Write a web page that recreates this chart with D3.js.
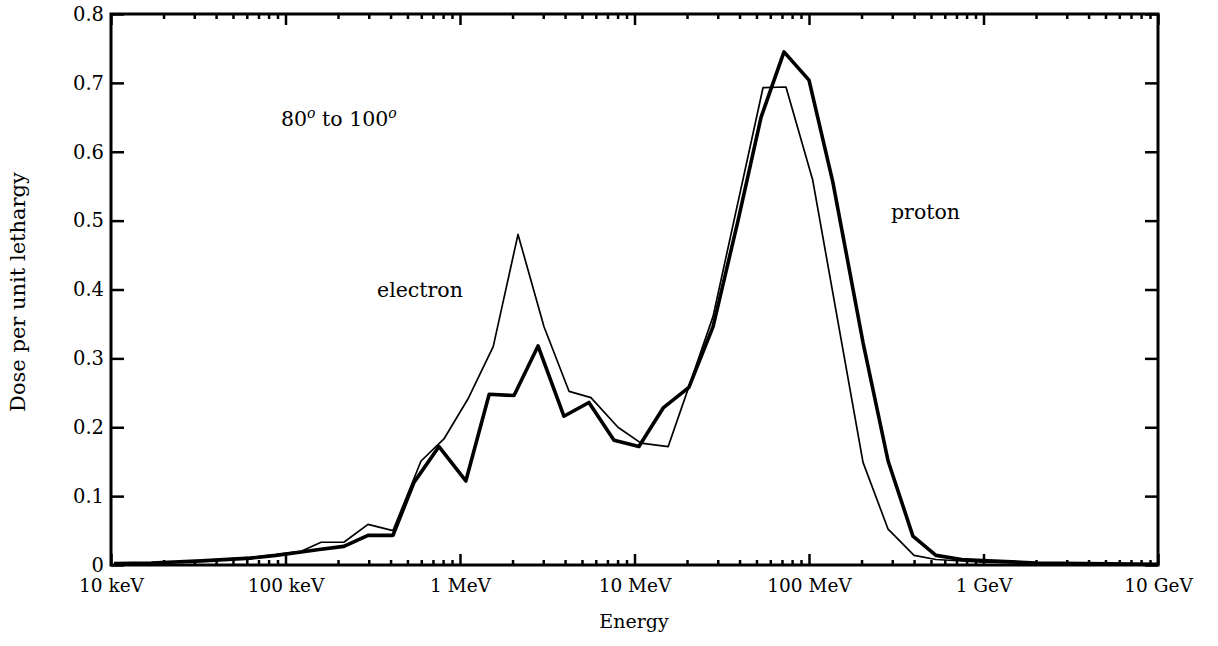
<!DOCTYPE html>
<html>
<head>
<meta charset="utf-8">
<script src="https://cdn.jsdelivr.net/npm/d3@7"></script>
<style>
  body { margin: 0; background: #fff; }
  svg { display: block; }
  text { font-family: "DejaVu Serif", serif; fill: #000; }
</style>
</head>
<body>
<svg id="chart"></svg>
<script>
// energies in MeV, dose per unit lethargy
const thickEnergy = [0.0104, 0.017, 0.033, 0.063, 0.088, 0.123, 0.16, 0.216, 0.297, 0.413,
  0.545, 0.758, 1.08, 1.47, 2.04, 2.8, 3.94, 5.48, 7.63, 10.6,
  14.6, 20.5, 28.2, 39.2, 53.1, 71.9, 100, 137, 204, 284,
  394, 534, 750, 1060, 2000, 10000];
const thickDose = [0.002, 0.003, 0.006, 0.010, 0.014, 0.019, 0.023, 0.027, 0.043, 0.043,
  0.120, 0.172, 0.122, 0.248, 0.246, 0.318, 0.216, 0.236, 0.181, 0.172,
  0.228, 0.258, 0.346, 0.500, 0.650, 0.745, 0.704, 0.556, 0.323, 0.151,
  0.042, 0.014, 0.008, 0.006, 0.003, 0.001];

const thinEnergy = [0.0104, 0.017, 0.033, 0.063, 0.088, 0.123, 0.16, 0.216, 0.297, 0.413,
  0.598, 0.809, 1.11, 1.55, 2.15, 3.03, 4.22, 5.63, 8.04, 10.9,
  15.6, 20.5, 28.2, 54.5, 73.8, 105, 204, 284, 400, 534,
  1000, 10000];
const thinDose = [0.002, 0.003, 0.006, 0.011, 0.015, 0.020, 0.033, 0.033, 0.059, 0.050,
  0.151, 0.183, 0.241, 0.317, 0.480, 0.346, 0.252, 0.243, 0.200, 0.177,
  0.172, 0.259, 0.361, 0.693, 0.694, 0.559, 0.149, 0.052, 0.014, 0.008,
  0.004, 0.001];

const xTickValues = [0.01, 0.1, 1, 10, 100, 1000, 10000];
const xTickLabels = ["10 keV", "100 keV", "1 MeV", "10 MeV", "100 MeV", "1 GeV", "10 GeV"];
const yTickValues = [0, 0.1, 0.2, 0.3, 0.4, 0.5, 0.6, 0.7, 0.8];
const yTickLabels = ["0", "0.1", "0.2", "0.3", "0.4", "0.5", "0.6", "0.7", "0.8"];

const width = 1218;
const height = 646;
const plotLeft = 111, plotRight = 1158, plotTop = 14, plotBottom = 565;

const svg = d3.select("#chart")
  .attr("width", width)
  .attr("height", height);

const x = d3.scaleLog().domain([0.01, 10000]).range([plotLeft, plotRight]);
const y = d3.scaleLinear().domain([0, 0.8]).range([plotBottom, plotTop]);

const minorTicks = x.ticks().filter(v => !xTickValues.includes(v));

// bottom axis: minor then major with labels
svg.append("g")
  .attr("transform", `translate(0,${plotBottom})`)
  .call(d3.axisBottom(x).tickValues(minorTicks).tickSize(-5).tickFormat(""))
  .call(g => g.select(".domain").remove());

svg.append("g")
  .attr("transform", `translate(0,${plotBottom})`)
  .call(d3.axisBottom(x).tickValues(xTickValues).tickSize(-11).tickPadding(14)
    .tickFormat((d, i) => xTickLabels[i]))
  .call(g => g.select(".domain").remove())
  .call(g => g.selectAll("text").attr("font-size", 18.5).attr("font-family", "DejaVu Serif"));

// top axis, no labels
svg.append("g")
  .attr("transform", `translate(0,${plotTop})`)
  .call(d3.axisTop(x).tickValues(minorTicks).tickSize(-5).tickFormat(""))
  .call(g => g.select(".domain").remove());

svg.append("g")
  .attr("transform", `translate(0,${plotTop})`)
  .call(d3.axisTop(x).tickValues(xTickValues).tickSize(-11).tickFormat(""))
  .call(g => g.select(".domain").remove());

// left axis with labels
svg.append("g")
  .attr("transform", `translate(${plotLeft},0)`)
  .call(d3.axisLeft(y).tickValues(yTickValues).tickSize(-13).tickPadding(7)
    .tickFormat((d, i) => yTickLabels[i]))
  .call(g => g.select(".domain").remove())
  .call(g => g.selectAll("text").attr("font-size", 19.5).attr("font-family", "DejaVu Serif"));

// right axis
svg.append("g")
  .attr("transform", `translate(${plotRight},0)`)
  .call(d3.axisRight(y).tickValues(yTickValues).tickSize(-13).tickFormat(""))
  .call(g => g.select(".domain").remove());

svg.selectAll(".tick line").attr("stroke", "#000").attr("stroke-width", 2.5);

// frame
svg.append("rect")
  .attr("x", plotLeft).attr("y", plotTop)
  .attr("width", plotRight - plotLeft).attr("height", plotBottom - plotTop)
  .attr("fill", "none")
  .attr("stroke", "#000")
  .attr("stroke-width", 3);

const line = d3.line()
  .x(d => x(d[0]))
  .y(d => y(d[1]));

svg.append("path")
  .datum(thinEnergy.map((e, i) => [e, thinDose[i]]))
  .attr("d", line)
  .attr("fill", "none")
  .attr("stroke", "#000")
  .attr("stroke-width", 1.7)
  .attr("stroke-linejoin", "round");

svg.append("path")
  .datum(thickEnergy.map((e, i) => [e, thickDose[i]]))
  .attr("d", line)
  .attr("fill", "none")
  .attr("stroke", "#000")
  .attr("stroke-width", 3.6)
  .attr("stroke-linejoin", "round");

// annotations
const ang = svg.append("text")
  .attr("x", 281).attr("y", 126)
  .attr("font-size", 20.5);
ang.append("tspan").text("80");
ang.append("tspan").attr("font-style", "italic").attr("font-size", 14).attr("dy", -8).text("o");
ang.append("tspan").attr("dy", 8).text(" to 100");
ang.append("tspan").attr("font-style", "italic").attr("font-size", 14).attr("dy", -8).text("o");

svg.append("text")
  .attr("x", 377).attr("y", 297)
  .attr("font-size", 20.5)
  .text("electron");

svg.append("text")
  .attr("x", 891).attr("y", 219)
  .attr("font-size", 20.5)
  .text("proton");

svg.append("text")
  .attr("x", 634).attr("y", 628)
  .attr("text-anchor", "middle")
  .attr("font-size", 19)
  .text("Energy");

svg.append("text")
  .attr("transform", "translate(25,292) rotate(-90)")
  .attr("text-anchor", "middle")
  .attr("font-size", 21)
  .text("Dose per unit lethargy");
</script>
</body>
</html>
